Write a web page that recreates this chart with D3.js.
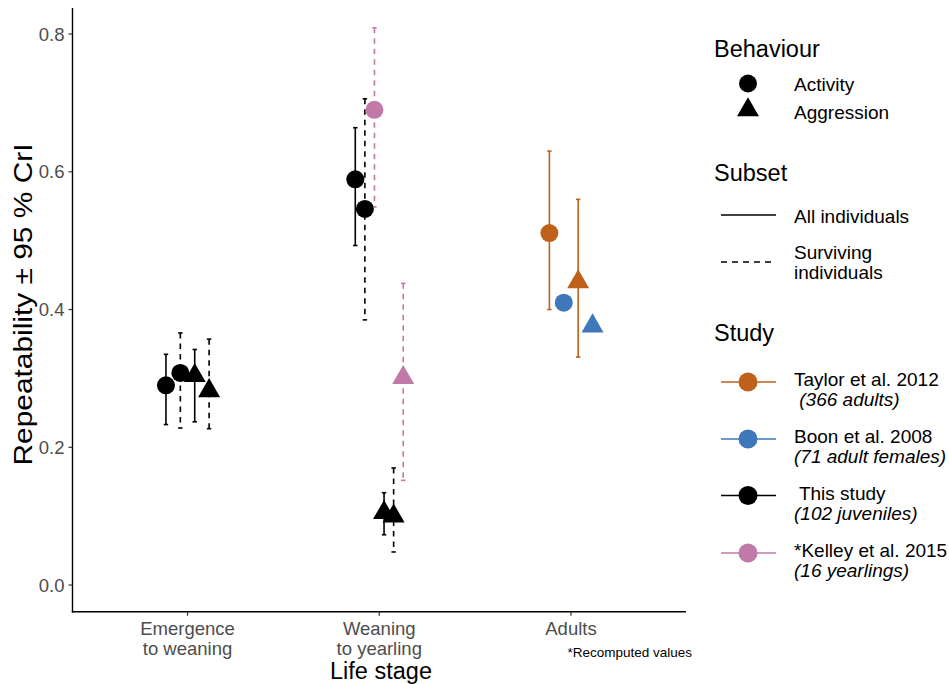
<!DOCTYPE html>
<html>
<head>
<meta charset="utf-8">
<script src="https://cdn.jsdelivr.net/npm/d3@7"></script>
<style>
  html, body { margin: 0; padding: 0; background: #fff; }
  svg { display: block; font-family: "Liberation Sans", Arial, sans-serif; }
</style>
</head>
<body>
<svg id="chart" width="949" height="684"></svg>
<script>
// Life stages on the x axis
const stages = ["Emergence to weaning", "Weaning to yearling", "Adults"];
const stageLines = [["Emergence", "to weaning"], ["Weaning", "to yearling"], ["Adults"]];

// Estimates in drawing (dodge) order within each stage
const pointStage     = [0, 0, 0, 0, 1, 1, 1, 1, 1, 1, 2, 2, 2, 2];
const pointBehaviour = ["Activity", "Activity", "Aggression", "Aggression",
                        "Activity", "Activity", "Activity", "Aggression", "Aggression", "Aggression",
                        "Activity", "Activity", "Aggression", "Aggression"];
const pointSubset    = ["All", "Surviving", "All", "Surviving",
                        "All", "Surviving", "Surviving", "All", "Surviving", "Surviving",
                        "All", "All", "All", "All"];
const pointStudy     = ["This", "This", "This", "This",
                        "This", "This", "Kelley", "This", "This", "Kelley",
                        "Taylor", "Boon", "Taylor", "Boon"];
const estimate = [0.290, 0.308, 0.304, 0.282,
                  0.589, 0.546, 0.690, 0.105, 0.100, 0.301,
                  0.511, 0.410, 0.440, 0.376];
const lower    = [0.233, 0.228, 0.237, 0.227,
                  0.493, 0.385, 0.549, 0.073, 0.048, 0.152,
                  0.400, null, 0.331, null];
const upper    = [0.335, 0.366, 0.342, 0.357,
                  0.664, 0.706, 0.809, 0.134, 0.170, 0.438,
                  0.630, null, 0.560, null];

const yTicks = [0.0, 0.2, 0.4, 0.6, 0.8];

// Study legend
const studyKeys   = ["Taylor", "Boon", "This", "Kelley"];
const studyColors = ["#c0611b", "#3e77ba", "#000000", "#c17aa8"];
const studyLine1  = ["Taylor et al. 2012", "Boon et al. 2008", " This study", "*Kelley et al. 2015"];
const studyLine2  = [" (366 adults)", "(71 adult females)", "(102 juveniles)", "(16 yearlings)"];

const colorOf = d3.scaleOrdinal().domain(studyKeys).range(studyColors);

const svg = d3.select("#chart");

const panel = { left: 72.5, right: 686, top: 8, bottom: 611.7 };

const x = d3.scalePoint().domain(stages).range([panel.left, panel.right]).padding(0.6);
const y = d3.scaleLinear().domain([-0.0387, 0.8378]).range([panel.bottom, panel.top]);

const dodgeWidth = 0.3 * x.step();

// Build rows and dodge offsets per stage
const rows = estimate.map((v, i) => ({
  stage: stages[pointStage[i]],
  behaviour: pointBehaviour[i],
  subset: pointSubset[i],
  study: pointStudy[i],
  est: v, lo: lower[i], hi: upper[i]
}));
const byStage = d3.group(rows, d => d.stage);
byStage.forEach(list => {
  const n = list.length;
  list.forEach((d, k) => {
    d.cx = x(d.stage) + (k - (n - 1) / 2) * (dodgeWidth / n);
  });
});

const dash = "5.5,5";
const lineW = 1.6;

// Error bars
const bars = svg.append("g");
rows.filter(d => d.lo != null).forEach(d => {
  const c = colorOf(d.study);
  const g = bars.append("g").attr("stroke", c).attr("stroke-width", lineW).attr("fill", "none");
  g.append("line").attr("x1", d.cx).attr("x2", d.cx).attr("y1", y(d.hi)).attr("y2", y(d.lo))
    .attr("stroke-dasharray", d.subset === "Surviving" ? dash : null);
  g.append("line").attr("x1", d.cx - 2.2).attr("x2", d.cx + 2.2).attr("y1", y(d.hi)).attr("y2", y(d.hi));
  g.append("line").attr("x1", d.cx - 2.2).attr("x2", d.cx + 2.2).attr("y1", y(d.lo)).attr("y2", y(d.lo));
});

// Point shapes: circle and centroid-centred triangle
function triPath(cx, cy, r) {
  const xc = Math.sqrt(3) / 2 * r, yc = r / 2;
  return `M${cx},${cy - r}L${cx + xc},${cy + yc}L${cx - xc},${cy + yc}Z`;
}
const pts = svg.append("g");
rows.forEach(d => {
  const c = colorOf(d.study);
  if (d.behaviour === "Activity") {
    pts.append("circle").attr("cx", d.cx).attr("cy", y(d.est)).attr("r", 9).attr("fill", c);
  } else {
    pts.append("path").attr("d", triPath(d.cx, y(d.est), 12.7)).attr("fill", c);
  }
});

// Axes
const axisG = svg.append("g").attr("stroke", "#000").attr("stroke-width", 1.4);
axisG.append("line").attr("x1", panel.left).attr("x2", panel.left).attr("y1", panel.top).attr("y2", panel.bottom + 0.7);
axisG.append("line").attr("x1", panel.left - 0.7).attr("x2", panel.right).attr("y1", panel.bottom).attr("y2", panel.bottom);

const tickFont = 18.5;
const yAxis = svg.append("g");
yTicks.forEach(t => {
  yAxis.append("line").attr("x1", panel.left - 4).attr("x2", panel.left).attr("y1", y(t)).attr("y2", y(t))
    .attr("stroke", "#333").attr("stroke-width", 1.2);
  yAxis.append("text").attr("x", panel.left - 8).attr("y", y(t) + 6.5).attr("text-anchor", "end")
    .attr("font-size", tickFont).attr("fill", "#4d4d4d").text(t.toFixed(1));
});

const xAxis = svg.append("g");
stages.forEach((s, i) => {
  const cx = x(s);
  xAxis.append("line").attr("x1", cx).attr("x2", cx).attr("y1", panel.bottom).attr("y2", panel.bottom + 4)
    .attr("stroke", "#333").attr("stroke-width", 1.2);
  stageLines[i].forEach((ln, j) => {
    xAxis.append("text").attr("x", cx).attr("y", 635 + j * 20).attr("text-anchor", "middle")
      .attr("font-size", tickFont).attr("fill", "#4d4d4d").text(ln);
  });
});

svg.append("text").attr("x", 381).attr("y", 679).attr("text-anchor", "middle")
  .attr("font-size", 23.5).attr("fill", "#000").text("Life stage");
svg.append("text").attr("transform", "translate(32,304.5) rotate(-90)")
  .attr("text-anchor", "middle").attr("font-size", 25.5)
  .attr("textLength", 322).attr("lengthAdjust", "spacingAndGlyphs")
  .attr("fill", "#000").text("Repeatability ± 95 % CrI");

svg.append("text").attr("x", 692).attr("y", 656.5).attr("text-anchor", "end")
  .attr("font-size", 13.5).attr("fill", "#000").text("*Recomputed values");

// Legends
const leg = svg.append("g");
const titleX = 714, keyX = 748, labelX = 794;
const titleFont = 23.5, labelFont = 19;
function title(txt, yc) {
  leg.append("text").attr("x", titleX).attr("y", yc + 8.5).attr("font-size", titleFont).attr("fill", "#000").text(txt);
}
function label(txt, yc, italic) {
  leg.append("text").attr("x", labelX).attr("y", yc + 7).attr("font-size", labelFont).attr("fill", "#000")
    .attr("font-style", italic ? "italic" : null).attr("xml:space", "preserve").style("white-space", "pre").text(txt);
}

title("Behaviour", 48);
leg.append("circle").attr("cx", keyX).attr("cy", 83.5).attr("r", 9).attr("fill", "#000");
label("Activity", 84);
leg.append("path").attr("d", triPath(keyX, 110, 12.7)).attr("fill", "#000");
label("Aggression", 112);

title("Subset", 172);
leg.append("line").attr("x1", 721).attr("x2", 776).attr("y1", 215).attr("y2", 215)
  .attr("stroke", "#000").attr("stroke-width", lineW);
label("All individuals", 216);
leg.append("line").attr("x1", 721).attr("x2", 776).attr("y1", 262).attr("y2", 262)
  .attr("stroke", "#000").attr("stroke-width", lineW).attr("stroke-dasharray", "6,5");
label("Surviving", 252);
label("individuals", 272);

title("Study", 332);
const keyYs = [382, 439, 495.5, 553];
studyKeys.forEach((k, i) => {
  const ky = keyYs[i];
  leg.append("line").attr("x1", 721).attr("x2", 776).attr("y1", ky).attr("y2", ky)
    .attr("stroke", colorOf(k)).attr("stroke-width", lineW);
  leg.append("circle").attr("cx", keyX).attr("cy", ky).attr("r", 9.5).attr("fill", colorOf(k));
  label(studyLine1[i], ky - 3, false);
  label(studyLine2[i], ky + 17, true);
});
</script>
</body>
</html>
